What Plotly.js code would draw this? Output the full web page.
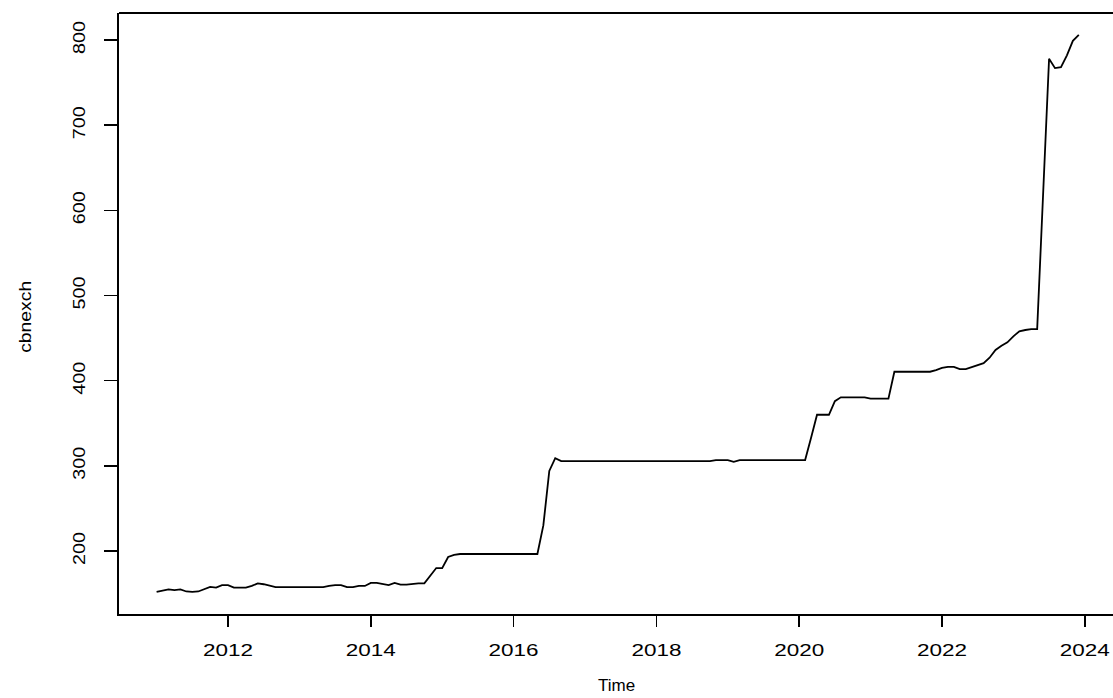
<!DOCTYPE html>
<html>
<head>
<meta charset="utf-8">
<script src="https://cdn.plot.ly/plotly-3.0.1.min.js"></script>
<style>html,body{margin:0;padding:0;background:#fff;}#chart{width:1113px;height:698px;}</style>
</head>
<body>
<div id="chart"></div>
<script>
// Monthly series cbnexch, Jan 2011 - Dec 2023
const startYear = 2011;
const frequency = 12;
const v2011 = [152, 153.5, 155, 154, 155, 152.5, 152, 152.5, 155, 158, 157, 160];
const v2012 = [160, 157, 157, 157, 159, 162, 161, 159, 157.5, 157.5, 157.5, 157.5];
const v2013 = [157.5, 157.5, 157.5, 157.5, 157.5, 159, 160, 160, 157.5, 157.5, 159, 159];
const v2014 = [162.5, 162.5, 161, 160, 162.5, 160.5, 160.5, 161.5, 162, 162, 171, 180];
const v2015 = [180, 193, 195.5, 196.5, 196.5, 196.5, 196.5, 196.5, 196.5, 196.5, 196.5, 196.5];
const v2016 = [196.5, 196.5, 196.5, 196.5, 196.5, 230, 294, 309, 305.5, 305.5, 305.5, 305.5];
const v2017 = [305.5, 305.5, 305.5, 305.5, 305.5, 305.5, 305.5, 305.5, 305.5, 305.5, 305.5, 305.5];
const v2018 = [305.5, 305.5, 305.5, 305.5, 305.5, 305.5, 305.5, 305.5, 305.5, 305.5, 306.8, 306.8];
const v2019 = [306.8, 304.8, 306.8, 306.8, 306.8, 306.8, 306.8, 306.8, 306.8, 306.8, 306.8, 306.8];
const v2020 = [306.8, 306.8, 333, 360, 360, 360, 376, 380.5, 380.5, 380.5, 380.5, 380.5];
const v2021 = [379, 379, 379, 379, 410.5, 410.5, 410.5, 410.5, 410.5, 410.5, 410.5, 412.5];
const v2022 = [415, 416.3, 416.3, 413.6, 413.6, 416, 418, 420.5, 427, 436, 441, 445];
const v2023 = [452, 458, 459.5, 460.5, 460.5, 619, 778, 767, 768, 782, 799, 806];

const cbnexch = [].concat(v2011, v2012, v2013, v2014, v2015, v2016, v2017, v2018, v2019, v2020, v2021, v2022, v2023);
const time = cbnexch.map((_, i) => startYear + i / frequency);

const xTicks = [2012, 2014, 2016, 2018, 2020, 2022, 2024];
const yTicks = [200, 300, 400, 500, 600, 700, 800];

const fontFam = '"Liberation Sans", Arial, Helvetica, sans-serif';

const trace = {
  x: time, y: cbnexch, type: 'scatter', mode: 'lines',
  line: {color: '#000000', width: 1.8},
  hoverinfo: 'skip'
};

const layout = {
  width: 1113, height: 698,
  margin: {l: 119, r: 0, t: 13, b: 84},
  paper_bgcolor: '#ffffff', plot_bgcolor: '#ffffff',
  showlegend: false,
  xaxis: {
    range: [2010.4734, 2024.3954],
    tickmode: 'array', tickvals: xTicks, ticktext: xTicks.map(String),
    ticks: 'outside', ticklen: 11, tickwidth: 1.5, tickcolor: '#000',
    showline: true, linecolor: '#000', linewidth: 1.8,
    showgrid: false, zeroline: false,
    tickfont: {family: fontFam, size: 17, color: '#000'},
    ticklabelstandoff: 9
  },
  yaxis: {
    range: [126.06, 831.7],
    tickmode: 'array', tickvals: yTicks, ticktext: yTicks.map(String),
    ticks: 'outside', ticklen: 13, tickwidth: 1.5, tickcolor: '#000',
    tickangle: -90,
    showline: true, linecolor: '#000', linewidth: 1.8,
    showgrid: false, zeroline: false,
    tickfont: {family: fontFam, size: 17, color: '#000'},
    ticklabelstandoff: 12
  },
  shapes: [
    {type: 'line', xref: 'paper', yref: 'paper', x0: 0, x1: 1, y0: 1, y1: 1,
     line: {color: '#000', width: 1.8}}
  ],
  annotations: [
    {text: 'Time', xref: 'paper', yref: 'paper', x: 0.5, y: -0.1198,
     xanchor: 'center', yanchor: 'middle', showarrow: false,
     font: {family: fontFam, size: 17, color: '#000'}},
    {text: 'cbnexch', xref: 'paper', yref: 'paper', x: -0.0936, y: 0.495,
     xanchor: 'center', yanchor: 'middle', showarrow: false, textangle: -90,
     font: {family: fontFam, size: 17, color: '#000'}}
  ]
};

Plotly.newPlot('chart', [trace], layout, {displayModeBar: false, staticPlot: true}).then(function () {
  // the reference renders its labels a little wider than the font's natural width
  document.querySelectorAll('#chart .xtick text').forEach(function (t) {
    t.setAttribute('textLength', '50');
    t.setAttribute('lengthAdjust', 'spacingAndGlyphs');
  });
  document.querySelectorAll('#chart .ytick text').forEach(function (t) {
    t.setAttribute('textLength', '33');
    t.setAttribute('lengthAdjust', 'spacingAndGlyphs');
  });
  document.querySelectorAll('#chart .annotation-text').forEach(function (t) {
    if (t.textContent === 'cbnexch') {
      t.setAttribute('textLength', '72');
      t.setAttribute('lengthAdjust', 'spacingAndGlyphs');
    }
  });
});
</script>
</body>
</html>
